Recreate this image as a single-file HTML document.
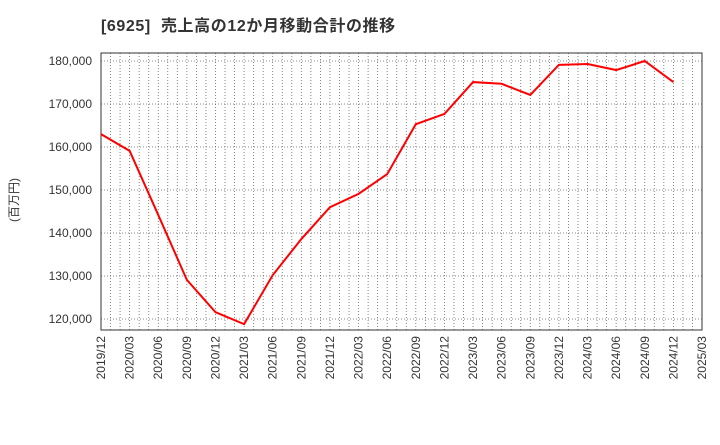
<!DOCTYPE html>
<html><head><meta charset="utf-8"><style>
body{margin:0;background:#fff;font-family:"Liberation Sans","Noto Sans CJK JP",sans-serif}
</style></head><body>
<svg width="720" height="440" xmlns="http://www.w3.org/2000/svg">
<text x="101" y="31" font-size="16" font-weight="bold" fill="#333" xml:space="preserve" style="white-space:pre;letter-spacing:0.6px" font-family="Liberation Sans, Noto Sans CJK JP, sans-serif">[6925]  売上高の12か月移動合計の推移</text>
<text transform="translate(18,200) rotate(-90)" font-size="12" fill="#333" text-anchor="middle" font-family="Liberation Sans, Noto Sans CJK JP, sans-serif">(百万円)</text>
<g id="grid"></g><g id="ticks"></g>
<rect x="101" y="53" width="601" height="277" fill="none" stroke="#333" stroke-width="1"/>
<polyline id="line" fill="none" stroke="#f00" stroke-width="2"/>
</svg>
<script>
const xLabels=["2019/12","2020/03","2020/06","2020/09","2020/12","2021/03","2021/06","2021/09","2021/12","2022/03","2022/06","2022/09","2022/12","2023/03","2023/06","2023/09","2023/12","2024/03","2024/06","2024/09","2024/12","2025/03"];
const values=[163000,159100,144200,129100,121600,118800,130200,138600,146000,149100,153700,165300,167700,175100,174700,172100,179100,179300,177900,180000,175100];
const yTicks=[120000,130000,140000,150000,160000,170000,180000];
const L=101,R=702,T=53,B=330;
const xq=i=>L+i*(R-L)/(xLabels.length-1);
const y=v=>61+(180000-v)*43/10000;
const NS="http://www.w3.org/2000/svg";
const grid=document.getElementById('grid'),ticks=document.getElementById('ticks');
function mk(t,a,p){const e=document.createElementNS(NS,t);for(const k in a)e.setAttribute(k,a[k]);p.appendChild(e);return e;}
for(let m=1;m<(xLabels.length-1)*3;m++){const x=L+m*(R-L)/((xLabels.length-1)*3);
const g=mk('line',{x1:x,x2:x,y1:T,y2:B,stroke:'#666','stroke-dasharray':'1,2','stroke-width':0.8},grid);

}
yTicks.forEach(v=>{const g=mk('line',{x1:L,x2:R,y1:y(v),y2:y(v),stroke:'#666','stroke-dasharray':'1,2','stroke-width':0.8},grid);


const t=mk('text',{x:L-9,y:y(v)+4,'font-size':12,fill:'#333','text-anchor':'end'},ticks);t.textContent=v.toLocaleString('en-US');

});
xLabels.forEach((s,i)=>{const x=xq(i);const t=mk('text',{transform:`translate(${x+4},${B+6}) rotate(-90)`,'font-size':12,fill:'#333','text-anchor':'end'},ticks);t.textContent=s;

});
document.getElementById('line').setAttribute('points',values.map((v,i)=>xq(i)+','+y(v)).join(' '));
</script>
</body></html>
